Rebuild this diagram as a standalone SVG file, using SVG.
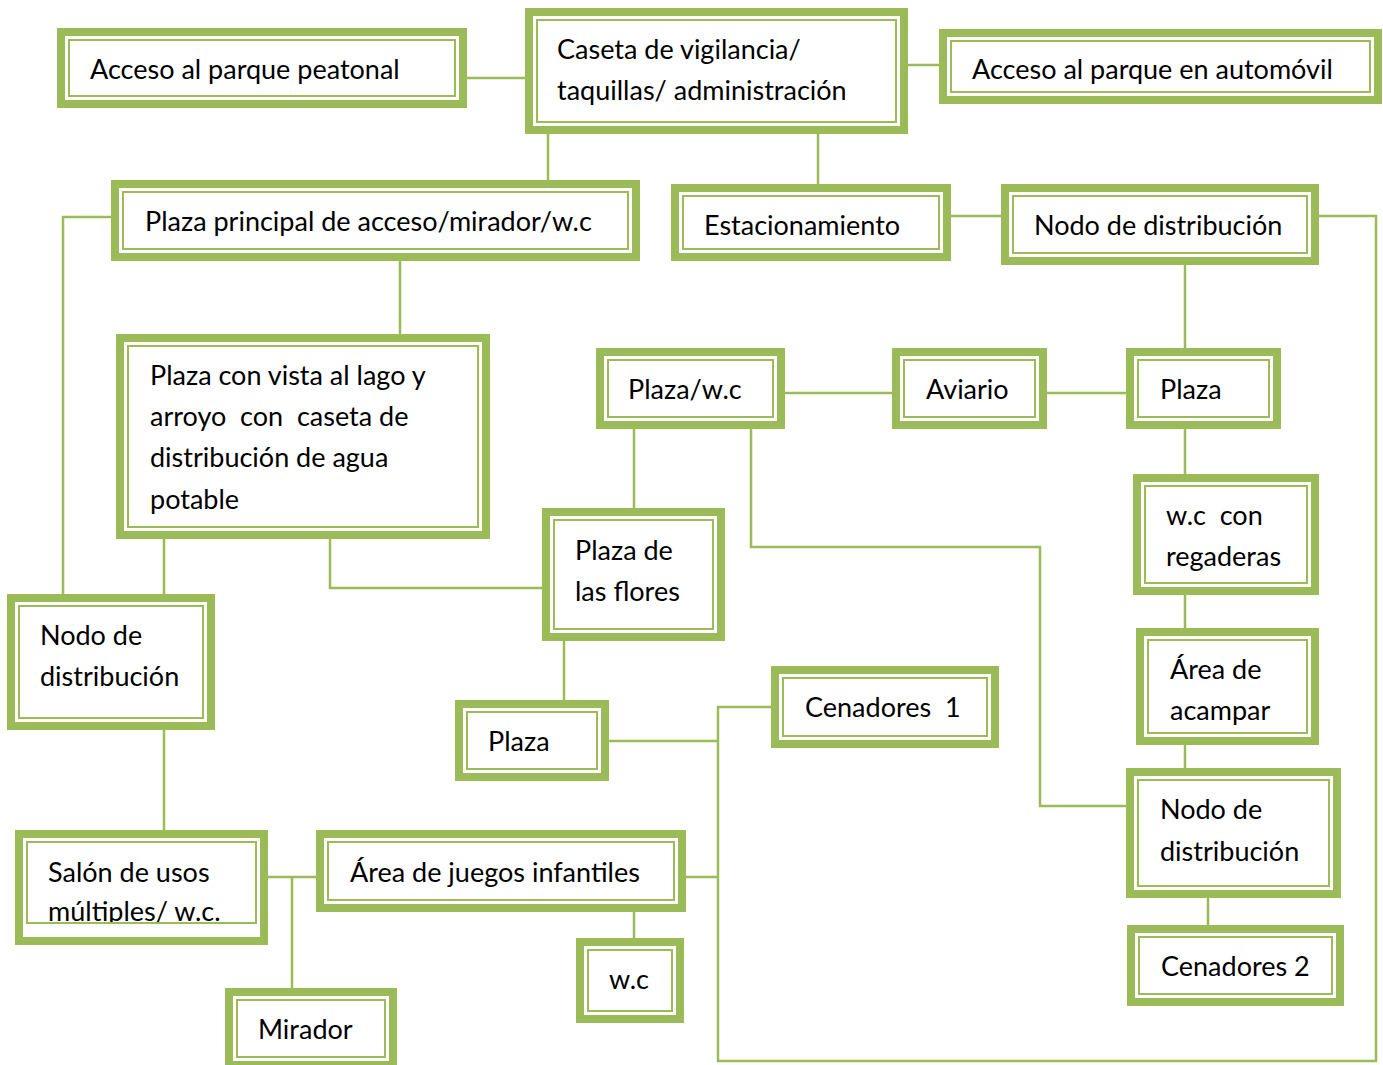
<svg xmlns="http://www.w3.org/2000/svg" width="1383" height="1065" viewBox="0 0 1383 1065">
<defs>
<style>
.o{fill:#fff;stroke:#9BBB59;stroke-width:8}
.i{fill:none;stroke:#9BBB59;stroke-width:2}
.c{fill:none;stroke:#9BBB59;stroke-width:2.5}
text{font-family:Lato,"Open Sans",sans-serif;font-size:27px;fill:#000;white-space:pre}
</style>
<clipPath id="clipSalon"><rect x="28" y="843" width="227" height="79"/></clipPath>
</defs>
<rect width="1383" height="1065" fill="#fff"/>
<g id="connectors">
<path class="c" d="M467 78H525"/>
<path class="c" d="M908 65H939"/>
<path class="c" d="M548 134V180"/>
<path class="c" d="M818 134V184"/>
<path class="c" d="M951 216H1001"/>
<path class="c" d="M111 217H63V594"/>
<path class="c" d="M400 261V334"/>
<path class="c" d="M1319 216H1376V1061H718V707H771"/>
<path class="c" d="M609 741H718"/>
<path class="c" d="M686 877H718"/>
<path class="c" d="M1185 265V348"/>
<path class="c" d="M785 393H892"/>
<path class="c" d="M1047 393H1126"/>
<path class="c" d="M1185 429V474"/>
<path class="c" d="M1185 595V628"/>
<path class="c" d="M1185 745V768"/>
<path class="c" d="M634 429V508"/>
<path class="c" d="M751 429V547H1040V806H1126"/>
<path class="c" d="M164 539V594"/>
<path class="c" d="M330 539V588H542"/>
<path class="c" d="M564 641V700"/>
<path class="c" d="M164 730V830"/>
<path class="c" d="M268 877H316"/>
<path class="c" d="M292 877V988"/>
<path class="c" d="M634 912V938"/>
<path class="c" d="M1208 898V925"/>
</g>
<g id="n1"><rect class="o" x="61" y="32" width="402" height="72"/><rect class="i" x="69" y="40" width="386" height="56"/><text x="90" y="79">Acceso al parque peatonal</text></g>
<g id="n2"><rect class="o" x="529" y="12" width="375" height="118"/><rect class="i" x="537" y="20" width="359" height="102"/><text x="557" y="59">Caseta de vigilancia/</text><text x="557" y="100">taquillas/ administración</text></g>
<g id="n3"><rect class="o" x="943" y="33" width="435" height="67"/><rect class="i" x="951" y="41" width="419" height="51"/><text x="972" y="79">Acceso al parque en automóvil</text></g>
<g id="n4"><rect class="o" x="115" y="184" width="521" height="73"/><rect class="i" x="123" y="192" width="505" height="57"/><text x="145" y="231">Plaza principal de acceso/mirador/w.c</text></g>
<g id="n5"><rect class="o" x="675" y="188" width="272" height="69"/><rect class="i" x="683" y="196" width="256" height="53"/><text x="704" y="235">Estacionamiento</text></g>
<g id="n6"><rect class="o" x="1005" y="188" width="310" height="73"/><rect class="i" x="1013" y="196" width="294" height="57"/><text x="1034" y="235">Nodo de distribución</text></g>
<g id="n7"><rect class="o" x="120" y="338" width="366" height="197"/><rect class="i" x="128" y="346" width="350" height="181"/><text x="150" y="385">Plaza con vista al lago y</text><text x="150" y="426">arroyo  con  caseta de</text><text x="150" y="467">distribución de agua</text><text x="150" y="509">potable</text></g>
<g id="n8"><rect class="o" x="600" y="352" width="181" height="73"/><rect class="i" x="608" y="360" width="165" height="57"/><text x="628" y="399">Plaza/w.c</text></g>
<g id="n9"><rect class="o" x="896" y="352" width="147" height="73"/><rect class="i" x="904" y="360" width="131" height="57"/><text x="926" y="399">Aviario</text></g>
<g id="n10"><rect class="o" x="1130" y="352" width="147" height="73"/><rect class="i" x="1138" y="360" width="131" height="57"/><text x="1160" y="399">Plaza</text></g>
<g id="n11"><rect class="o" x="1137" y="478" width="178" height="113"/><rect class="i" x="1145" y="486" width="162" height="97"/><text x="1166" y="525">w.c  con</text><text x="1166" y="566">regaderas</text></g>
<g id="n12"><rect class="o" x="546" y="512" width="175" height="125"/><rect class="i" x="554" y="520" width="159" height="109"/><text x="575" y="560">Plaza de</text><text x="575" y="601">las flores</text></g>
<g id="n13"><rect class="o" x="11" y="598" width="200" height="128"/><rect class="i" x="19" y="606" width="184" height="112"/><text x="40" y="645">Nodo de</text><text x="40" y="686">distribución</text></g>
<g id="n14"><rect class="o" x="1140" y="632" width="175" height="109"/><rect class="i" x="1148" y="640" width="159" height="93"/><text x="1170" y="679">Área de</text><text x="1170" y="720">acampar</text></g>
<g id="n15"><rect class="o" x="775" y="670" width="220" height="74"/><rect class="i" x="783" y="678" width="204" height="58"/><text x="805" y="717">Cenadores  1</text></g>
<g id="n16"><rect class="o" x="459" y="704" width="146" height="73"/><rect class="i" x="467" y="712" width="130" height="57"/><text x="488" y="751">Plaza</text></g>
<g id="n17"><rect class="o" x="1130" y="772" width="207" height="122"/><rect class="i" x="1138" y="780" width="191" height="106"/><text x="1160" y="819">Nodo de</text><text x="1160" y="861">distribución</text></g>
<g id="n18"><rect class="o" x="19" y="834" width="245" height="107"/><rect class="i" x="27" y="842" width="229" height="81"/><g clip-path="url(#clipSalon)"><text x="48" y="882">Salón de usos</text><text x="48" y="921">múltiples/ w.c.</text></g></g>
<g id="n19"><rect class="o" x="320" y="834" width="362" height="74"/><rect class="i" x="328" y="842" width="346" height="58"/><text x="350" y="882">Área de juegos infantiles</text></g>
<g id="n20"><rect class="o" x="580" y="942" width="100" height="77"/><rect class="i" x="588" y="950" width="84" height="61"/><text x="609" y="989">w.c</text></g>
<g id="n21"><rect class="o" x="229" y="992" width="164" height="73"/><rect class="i" x="237" y="1000" width="148" height="57"/><text x="258" y="1039">Mirador</text></g>
<g id="n22"><rect class="o" x="1131" y="929" width="209" height="73"/><rect class="i" x="1139" y="937" width="193" height="57"/><text x="1161" y="976">Cenadores 2</text></g>
</svg>
